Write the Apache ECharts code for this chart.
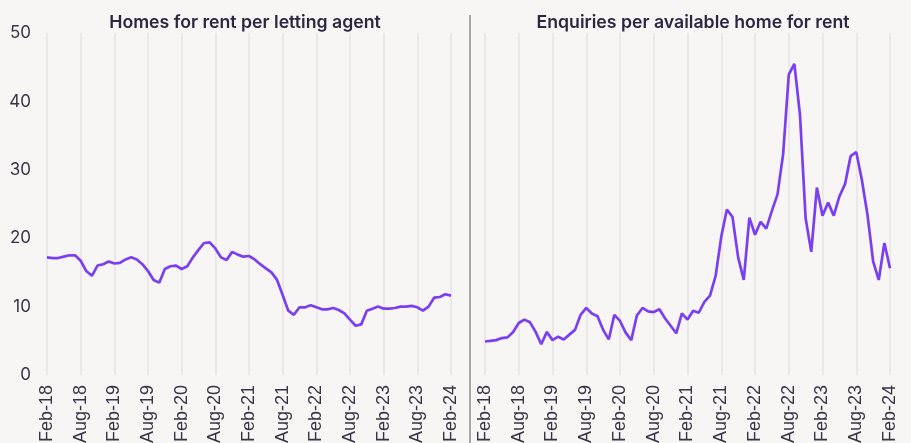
<!DOCTYPE html>
<html>
<head>
<meta charset="utf-8">
<script src="https://cdn.jsdelivr.net/npm/echarts@6/dist/echarts.min.js"></script>
<style>
  html, body { margin: 0; padding: 0; background: #f7f6f4; }
  #chart { width: 911px; height: 443px; }
</style>
</head>
<body>
<div id="chart"></div>
<script>
// monthly, Feb-18 .. Feb-24
const monthNames = ['Jan', 'Feb', 'Mar', 'Apr', 'May', 'Jun', 'Jul', 'Aug', 'Sep', 'Oct', 'Nov', 'Dec']
const months = []
for (let i = 0; i < 73; i++) {
  const m = (1 + i) % 12
  const y = 18 + Math.floor((1 + i) / 12)
  months.push(monthNames[m] + '-' + y)
}

const homesPerAgent = [
  17.2, 17.1, 17.1, 17.3, 17.5, 17.5, 16.7, 15.2, 14.5, 16.0, 16.2, 16.6,
  16.3, 16.4, 16.9, 17.2, 16.9, 16.2, 15.2, 13.9, 13.5, 15.5, 15.9, 16.0,
  15.5, 15.9, 17.2, 18.3, 19.3, 19.4, 18.5, 17.2, 16.8, 18.0, 17.6, 17.3,
  17.4, 16.9, 16.2, 15.6, 15.0, 13.9, 11.7, 9.4, 8.8, 9.9, 9.9, 10.2,
  9.9, 9.6, 9.6, 9.8, 9.5, 9.0, 8.1, 7.2, 7.4, 9.4, 9.7, 10.0,
  9.7, 9.7, 9.8, 10.0, 10.0, 10.1, 9.9, 9.4, 10.0, 11.3, 11.4, 11.8,
  11.6
]

const enquiriesPerHome = [
  4.9, 5.0, 5.1, 5.4, 5.5, 6.3, 7.6, 8.1, 7.7, 6.3, 4.5, 6.3,
  5.1, 5.6, 5.2, 5.9, 6.6, 8.8, 9.8, 9.0, 8.6, 6.6, 5.2, 8.8,
  7.9, 6.2, 5.1, 8.7, 9.8, 9.3, 9.2, 9.6, 8.3, 7.2, 6.1, 9.0,
  8.1, 9.4, 9.1, 10.7, 11.6, 14.5, 20.2, 24.2, 23.1, 17.2, 13.9, 23.0,
  20.5, 22.4, 21.4, 24.0, 26.4, 32.3, 43.9, 45.5, 38.0, 22.9, 18.0, 27.4,
  23.3, 25.2, 23.3, 26.1, 27.9, 32.0, 32.6, 28.5, 23.4, 16.6, 13.9, 19.3,
  15.6
]

const titles = ['Homes for rent per letting agent', 'Enquiries per available home for rent']

const textColor = '#3a3346'
const lineColor = '#7b3ff2'
const gridColor = '#e6e4e1'
const fontFamily = 'Inter, "Noto Sans", sans-serif'

const chart = echarts.init(document.getElementById('chart'))

function xAxisFor(gridIndex) {
  return {
    type: 'category',
    gridIndex,
    data: months,
    boundaryGap: false,
    axisLine: { show: false },
    axisTick: { show: false },
    axisLabel: {
      interval: 5,
      rotate: 90,
      margin: 10,
      color: textColor,
      fontSize: 18,
      fontFamily: '"Liberation Sans", Arial, sans-serif'
    },
    splitLine: { show: true, interval: 5, lineStyle: { color: gridColor, width: 1.5 } }
  }
}

function yAxisFor(gridIndex, showLabels) {
  return {
    type: 'value',
    gridIndex,
    min: 0,
    max: 50,
    interval: 10,
    axisLine: { show: false },
    axisTick: { show: false },
    splitLine: { show: false },
    axisLabel: {
      show: showLabels,
      margin: 16,
      color: textColor,
      fontSize: 17,
      fontFamily
    }
  }
}

chart.setOption({
  backgroundColor: '#f7f6f4',
  animation: false,
  title: [
    {
      text: titles[0],
      left: 240,
      top: 9,
      textAlign: 'center',
      textStyle: { color: '#2e2640', fontSize: 17.7, fontWeight: 600, fontFamily }
    },
    {
      text: titles[1],
      left: 688,
      top: 9,
      textAlign: 'center',
      textStyle: { color: '#2e2640', fontSize: 17.7, fontWeight: 600, fontFamily }
    }
  ],
  grid: [
    { left: 47, top: 33, width: 404, height: 342, outerBoundsMode: 'none' },
    { left: 485, top: 33, width: 405, height: 342, outerBoundsMode: 'none' }
  ],
  xAxis: [xAxisFor(0), xAxisFor(1)],
  yAxis: [yAxisFor(0, true), yAxisFor(1, false)],
  graphic: [
    {
      type: 'line',
      shape: { x1: 470, y1: 15, x2: 470, y2: 443 },
      style: { stroke: '#a9a7a5', lineWidth: 2 }
    }
  ],
  series: [
    {
      name: titles[0],
      type: 'line',
      xAxisIndex: 0,
      yAxisIndex: 0,
      data: homesPerAgent,
      symbol: 'none',
      lineStyle: { color: lineColor, width: 2.7 }
    },
    {
      name: titles[1],
      type: 'line',
      xAxisIndex: 1,
      yAxisIndex: 1,
      data: enquiriesPerHome,
      symbol: 'none',
      lineStyle: { color: lineColor, width: 2.7 }
    }
  ]
})
</script>
</body>
</html>
